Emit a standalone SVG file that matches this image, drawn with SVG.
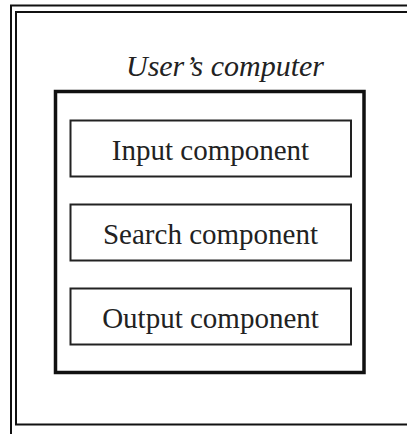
<svg xmlns="http://www.w3.org/2000/svg" width="407" height="434" viewBox="0 0 407 434">
<style>
.frame{fill:none;stroke:#111;stroke-width:2}
.outer{fill:none;stroke:#111;stroke-width:3.5}
.box{fill:#fff;stroke:#222;stroke-width:2}
.lbl{font-family:"Liberation Serif","Times New Roman",serif;font-size:29px;fill:#222;text-anchor:middle}
.title{font-family:"Liberation Serif","Times New Roman",serif;font-size:30px;font-style:italic;fill:#222;text-anchor:middle}
</style>
<rect width="407" height="434" fill="#fff"/>
<path class="frame" d="M11,434 V5.5 H407"/>
<path class="frame" d="M407,12 H16 V424.5 H407"/>
<g id="users-computer">
<rect class="outer" x="55.5" y="91.5" width="308.5" height="281"/>
<text class="title" x="225" y="76">User’s computer</text>
</g>
<g id="input-component">
<rect class="box" x="70.5" y="120.5" width="280.5" height="56"/>
<text class="lbl" x="210.5" y="160">Input component</text>
</g>
<g id="search-component">
<rect class="box" x="70.5" y="204.5" width="280.5" height="56"/>
<text class="lbl" x="210.5" y="244">Search component</text>
</g>
<g id="output-component">
<rect class="box" x="70.5" y="288.5" width="280.5" height="56"/>
<text class="lbl" x="210.5" y="328">Output component</text>
</g>
<g id="connectors"></g>
</svg>
